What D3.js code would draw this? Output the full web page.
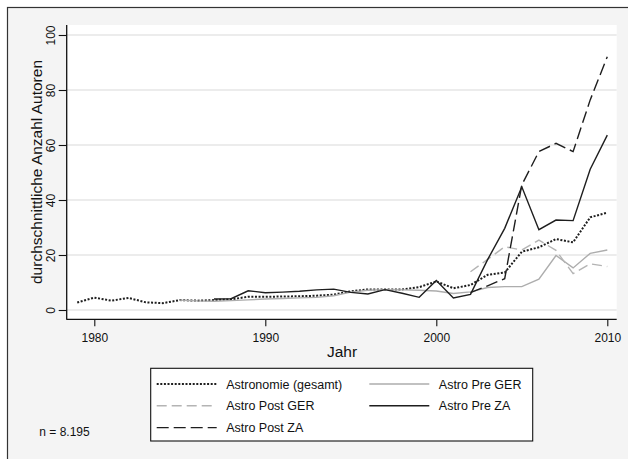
<!DOCTYPE html>
<html>
<head>
<meta charset="utf-8">
<script src="https://cdn.jsdelivr.net/npm/d3@7"></script>
<style>
  html, body { margin: 0; padding: 0; background: #ffffff; }
  svg { display: block; font-family: "Liberation Sans", Arial, sans-serif; }
</style>
</head>
<body>
<svg id="chart" width="628" height="459"></svg>
<script>
// ---- data ----
const years = d3.range(1979, 2011);
const xTicks = [1980, 1990, 2000, 2010];
const yTicks = [0, 20, 40, 60, 80, 100];

const gesamt = [2.7, 4.5, 3.4, 4.4, 2.8, 2.5, 3.6, 3.4, 3.6, 3.9, 4.8, 4.8, 4.9, 5.0, 5.2, 5.6,
  6.8, 7.5, 7.5, 7.5, 8.3, 10.4, 7.9, 9.1, 12.8, 13.6, 21.2, 22.8, 25.8, 24.6, 33.7, 35.4];
const preGER = [null, null, null, null, null, null, 3.6, 3.3, 3.2, 3.4, 3.7, 4.0, 4.2, 4.4, 4.6, 5.2,
  6.5, 7.2, 7.4, 7.3, 7.2, 6.9, 6.0, 6.6, 8.2, 8.5, 8.5, 11.2, 19.8, 15.3, 20.6, 21.8];
const postGER = [null, null, null, null, null, null, null, null, null, null, null, null, null, null, null, null,
  null, null, null, null, null, null, null, 13.9, 18.4, 23.0, 21.8, 25.4, 21.7, 13.2, 16.8, 15.8];
const preZA = [null, null, null, null, null, null, null, null, 4.0, 4.1, 7.0, 6.3, 6.5, 6.8, 7.3, 7.6,
  6.4, 5.8, 7.4, 6.1, 4.6, 10.7, 4.4, 5.7, 18.3, 29.7, 44.8, 29.2, 32.7, 32.5, 51.2, 63.6];
const postZA = [null, null, null, null, null, null, null, null, null, null, null, null, null, null, null, null,
  null, null, null, null, null, null, null, 6.3, 8.8, 11.4, 45.5, 57.6, 60.6, 57.6, 76.4, 92.1];

const seriesNames = ["Astronomie (gesamt)", "Astro Pre GER", "Astro Post GER", "Astro Pre ZA", "Astro Post ZA"];
const seriesValues = [gesamt, preGER, postGER, preZA, postZA];

// ---- styles ----
const styles = [
  { color: "#1e1e1e", width: 2.0, dash: "2,1.6" },
  { color: "#adadad", width: 1.4, dash: null },
  { color: "#b4b4b4", width: 1.4, dash: "10,5" },
  { color: "#1e1e1e", width: 1.4, dash: null },
  { color: "#1e1e1e", width: 1.4, dash: "12,5" }
];

const svg = d3.select("#chart");

// outer background + frame
svg.append("rect").attr("x", 7.5).attr("y", 7.5).attr("width", 640).attr("height", 470)
  .attr("fill", "#f4f4f4").attr("stroke", "#333").attr("stroke-width", 1.2);

const plotL = 66.7, plotR = 616.7, plotT = 25, plotB = 319.3;

// plot area
svg.append("rect").attr("x", plotL).attr("y", plotT).attr("width", plotR - plotL).attr("height", plotB - plotT)
  .attr("fill", "#ffffff");

const x = d3.scaleLinear().domain([1980, 2010]).range([94.3, 607.3]);
const y = d3.scaleLinear().domain([0, 100]).range([310, 35]);

// gridlines
svg.append("g").selectAll("line").data(yTicks).join("line")
  .attr("x1", plotL).attr("x2", plotR)
  .attr("y1", d => y(d)).attr("y2", d => y(d))
  .attr("stroke", "#e6e6e6").attr("stroke-width", 1.3);

// lines
const line = d3.line()
  .defined(d => d.v !== null)
  .x(d => x(d.year))
  .y(d => y(d.v));

seriesValues.forEach((vals, i) => {
  const data = years.map((yr, j) => ({ year: yr, v: vals[j] }));
  const st = styles[i];
  const p = svg.append("path").datum(data)
    .attr("fill", "none")
    .attr("stroke", st.color)
    .attr("stroke-width", st.width)
    .attr("stroke-linejoin", "miter")
    .attr("d", line);
  if (st.dash) p.attr("stroke-dasharray", st.dash);
});

// axes
const xAxis = svg.append("g").attr("transform", `translate(0,${plotB})`)
  .call(d3.axisBottom(x).tickValues(xTicks).tickSize(7).tickPadding(4).tickFormat(d3.format("d")));
xAxis.select(".domain").remove();
xAxis.selectAll(".tick line").attr("stroke", "#111").attr("stroke-width", 1.1);
xAxis.selectAll(".tick text").attr("font-size", 12).attr("fill", "#111")
  .attr("y", 23).attr("dy", 0);

const yAxis = svg.append("g").attr("transform", `translate(${plotL},0)`)
  .call(d3.axisLeft(y).tickValues(yTicks).tickSize(8));
yAxis.select(".domain").remove();
yAxis.selectAll(".tick line").attr("stroke", "#111").attr("stroke-width", 1.1);
yAxis.selectAll(".tick text").attr("font-size", 12).attr("fill", "#111")
  .attr("x", 0).attr("dy", 0).attr("y", 0)
  .attr("text-anchor", "middle")
  .attr("transform", "translate(-11.5,0) rotate(-90)");

svg.append("line").attr("x1", plotL).attr("x2", plotL).attr("y1", plotT).attr("y2", plotB + 0.5)
  .attr("stroke", "#111").attr("stroke-width", 1.3);
svg.append("line").attr("x1", plotL).attr("x2", plotR).attr("y1", plotB).attr("y2", plotB)
  .attr("stroke", "#111").attr("stroke-width", 1.3);

// axis titles
svg.append("text").attr("x", 342).attr("y", 357).attr("text-anchor", "middle")
  .attr("font-size", 15.5).attr("fill", "#111").text("Jahr");
svg.append("text").attr("transform", "translate(41.5,172) rotate(-90)").attr("text-anchor", "middle")
  .attr("font-size", 15.5).attr("fill", "#111").text("durchschnittliche Anzahl Autoren");

// legend
const lg = svg.append("g");
lg.append("rect").attr("x", 150.7).attr("y", 368.3).attr("width", 382).attr("height", 72.7)
  .attr("fill", "#ffffff").attr("stroke", "#111").attr("stroke-width", 1.1);
const legendPos = [
  { col: 0, row: 0 }, { col: 1, row: 0 }, { col: 0, row: 1 }, { col: 1, row: 1 }, { col: 0, row: 2 }
];
const colX = [156.7, 369.3];
const rowY = [384, 405.8, 427.6];
seriesNames.forEach((name, i) => {
  const pos = legendPos[i];
  const st = styles[i];
  const lx = colX[pos.col], ly = rowY[pos.row];
  const l = lg.append("line").attr("x1", lx).attr("x2", lx + 60).attr("y1", ly).attr("y2", ly)
    .attr("stroke", st.color).attr("stroke-width", st.width);
  if (st.dash) l.attr("stroke-dasharray", st.dash);
  lg.append("text").attr("x", lx + 69.5).attr("y", ly + 4.5)
    .attr("font-size", 12.5).attr("fill", "#111").text(name);
});

// note
svg.append("text").attr("x", 39.3).attr("y", 436).attr("font-size", 12).attr("fill", "#111").text("n = 8.195");
</script>
</body>
</html>
